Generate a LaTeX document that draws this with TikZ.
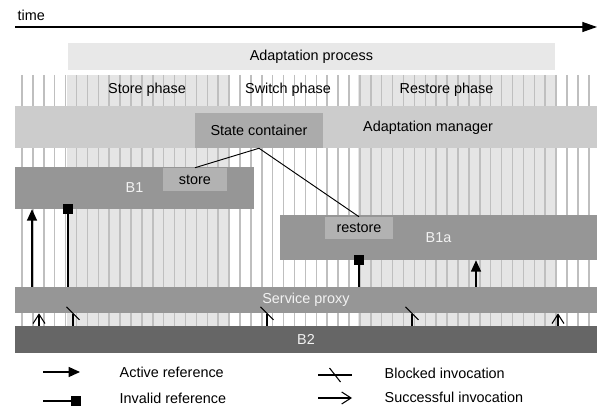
\documentclass[tikz,border=0pt]{standalone}
\usepackage{fontspec}
\setmainfont{Liberation Sans}
\usetikzlibrary{arrows.meta,calc}

\tikzset{
  band/.style={fill=#1, draw=none, inner sep=0pt},
  stripe/.style={draw=black!25, line width=1.1pt},
  activeref/.style={line width=0.9pt, -{Triangle[width=7.5pt,length=8.5pt]}},
  invalidref/.style={line width=0.9pt, -{Square[width=7.5pt,length=7.5pt]}},
  invoc/.style={line width=0.8pt},
  okinvoc/.style={invoc, -{Straight Barb[width=9pt,length=7pt]}},
  whitetext/.style={text=white!95!black}
}

\begin{document}
\begin{tikzpicture}[x=0.75pt,y=-0.75pt,font=\fontsize{10.8}{13}\selectfont]

\useasboundingbox (0,0) rectangle (600,409);

% time axis
\node[anchor=west] (time) at (13,15) {time};
\coordinate (t0) at (15,27);
\coordinate (t1) at (597,27);
\draw[line width=0.9pt, -{Triangle[width=7.5pt,length=11pt]}] (t0) -- (t1);

% adaptation process and its phases
\node[band=black!9, minimum width=365.25pt, minimum height=20.25pt] (process) at (311.5,56.5) {Adaptation process};

\fill[black!10] (67,75) rectangle (230,326);
\fill[black!10] (358,75) rectangle (557,326);
\foreach \i in {0,...,52}
  \draw[stripe] ({22+10.9*\i},75) -- ({22+10.9*\i},326);

\node (storeph) at (147,90) {Store phase};
\node (switchph) at (288,90) {Switch phase};
\node (restoreph) at (446.5,90) {Restore phase};

% adaptation manager
\node[band=black!20, minimum width=436.5pt, minimum height=31.5pt] (manager) at (306,127) {};
\node (managertxt) at (428,128) {Adaptation manager};
\node[band=black!33, minimum width=96pt, minimum height=26.25pt] (container) at (259,130.5) {State container};

% components
\node[band=black!41, whitetext, minimum width=179.25pt, minimum height=31.5pt] (b1) at (134.5,188) {B1};
\node[band=black!30, minimum width=48pt, minimum height=17.25pt] (store) at (195,179.5) {store};

\node[band=black!41, whitetext, minimum width=237.75pt, minimum height=33.75pt] (b1a) at (438.5,237.5) {B1a};
\node[band=black!30, minimum width=51pt, minimum height=16.5pt] (restore) at (359,228) {restore};

\node[band=black!41, whitetext, minimum width=436.5pt, minimum height=19.5pt] (proxy) at (306,300) {Service proxy};
\node[band=black!60, whitetext, minimum width=436.5pt, minimum height=20.25pt] (b2) at (306,339.5) {B2};

% state transfer
\draw[line width=0.7pt] (store.north) -- (container.south) -- (restore.north);

% references
\coordinate (ar1) at (32,0);
\coordinate (ir1) at (68,0);
\coordinate (ir2) at (359,0);
\coordinate (ar2) at (476,0);
\draw[activeref] (proxy.north -| ar1) -- (b1.south -| ar1);
\draw[invalidref, shorten >=-3.75pt] (proxy.north -| ir1) -- (b1.south -| ir1);
\draw[invalidref, shorten >=-3.75pt] (proxy.north -| ir2) -- (b1a.south -| ir2);
\draw[activeref] (proxy.north -| ar2) -- (b1a.south -| ar2);

% invocations
\foreach \x in {39,558} {
  \coordinate (ok) at (\x,0);
  \draw[okinvoc] (b2.north -| ok) -- (proxy.south -| ok);
}
\foreach \x in {73,267,412} {
  \coordinate (bk) at (\x,0);
  \draw[invoc] (b2.north -| bk) -- ++(0,-12);
  \draw[invoc] ($(proxy.south -| bk)+(-6.5,-6.5)$) -- ++(13,13);
}

% legend
\coordinate (la0) at (43,372);
\coordinate (la1) at (80,372);
\draw[activeref] (la0) -- (la1);
\node[anchor=west] (latxt) at (115,372) {Active reference};

\coordinate (li0) at (43,401);
\coordinate (li1) at (81,401);
\draw[invalidref] (li0) -- (li1);
\node[anchor=west] (litxt) at (115,398) {Invalid reference};

\coordinate (lb0) at (318,375);
\coordinate (lb1) at (352,375);
\draw[invoc] (lb0) -- (lb1);
\draw[invoc] ($(lb0)!0.5!(lb1)+(-5.5,-7)$) -- ++(11,14);
\node[anchor=west] (lbtxt) at (380,373) {Blocked invocation};

\coordinate (ls0) at (318,398);
\coordinate (ls1) at (352,398);
\draw[okinvoc] (ls0) -- (ls1);
\node[anchor=west] (lstxt) at (380,397) {Successful invocation};

\end{tikzpicture}
\end{document}
